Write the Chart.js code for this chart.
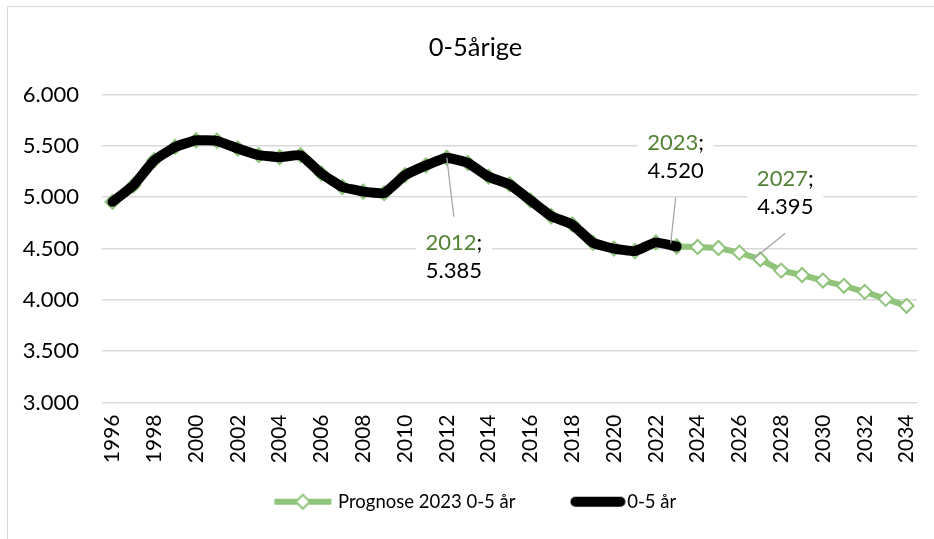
<!DOCTYPE html>
<html>
<head>
<meta charset="utf-8">
<script src="https://cdn.jsdelivr.net/npm/chart.js@4.4.1/dist/chart.umd.min.js"></script>
<style>
  html, body { margin: 0; padding: 0; background: #fff; overflow: hidden; }
  #frame { position: absolute; left: 7px; top: 6px; width: 1000px; height: 600px; border: 1px solid #d9d9d9; }
  #wrap { position: absolute; left: 0; top: 0; width: 951px; height: 539px; }
</style>
</head>
<body>
<div id="frame"></div>
<div id="wrap"><canvas id="chart"></canvas></div>
<script>
// years on the x axis
var years = [];
for (var y = 1996; y <= 2034; y++) years.push(String(y));

// registered 0-5 year olds, 1996-2023
var actual = [4955, 5115, 5360, 5490, 5555, 5550, 5475, 5410, 5390, 5410, 5230, 5100,
  5055, 5040, 5215, 5310, 5385, 5335, 5200, 5125, 4970, 4815, 4735, 4555, 4500, 4475, 4560, 4520];

// forecast 2023, 2024-2034
var forecastTail = [4515, 4505, 4460, 4395, 4285, 4242, 4188, 4137, 4078, 4010, 3942];

var prognoseData = actual.concat(forecastTail);
var actualData = actual.concat(forecastTail.map(function(){ return null; }));

var green = '#8fc47a';
var labelGreen = '#548235';
var font = 'Lato, "Liberation Sans", sans-serif';

function fmt(v) {
  return String(Math.round(v)).replace(/\B(?=(\d{3})+(?!\d))/g, '.');
}

// legend symbols (line + marker like Excel)
function legendGreen() {
  var c = document.createElement('canvas');
  c.width = 80; c.height = 18;
  var g = c.getContext('2d');
  g.strokeStyle = green; g.lineWidth = 6;
  g.beginPath(); g.moveTo(21.75, 9); g.lineTo(78.75, 9); g.stroke();
  g.fillStyle = '#fff'; g.lineWidth = 2;
  g.beginPath(); g.moveTo(50.25, 2); g.lineTo(57.25, 9); g.lineTo(50.25, 16); g.lineTo(43.25, 9); g.closePath();
  g.fill(); g.stroke();
  return c;
}
function legendBlack() {
  var c = document.createElement('canvas');
  c.width = 90; c.height = 14;
  var g = c.getContext('2d');
  g.strokeStyle = '#000'; g.lineWidth = 10; g.lineCap = 'round';
  g.beginPath(); g.moveTo(38.75, 7); g.lineTo(83.75, 7); g.stroke();
  return c;
}

// labels like "2012; 5.385" with leader lines
var callouts = [
  { ds: 1, idx: 16, dx: 7, dy: 85, lx: 7, ly: 59, ex: 0, ey: 0 },
  { ds: 1, idx: 27, dx: -1, dy: -104, lx: -1, ly: -49, ex: -6, ey: -3 },
  { ds: 0, idx: 31, dx: 25, dy: -80, lx: 25, ly: -26, ex: -7, ey: 0 }
];

var calloutPlugin = {
  id: 'callouts',
  afterDatasetsDraw: function(chart) {
    var ctx = chart.ctx;
    callouts.forEach(function(c) {
      var pt = chart.getDatasetMeta(c.ds).data[c.idx];
      if (!pt) return;
      var val = chart.data.datasets[c.ds].data[c.idx];
      var x = pt.x, y = pt.y;
      var cx = x + c.dx, cy = y + c.dy;
      ctx.save();
      ctx.fillStyle = '#fff';
      ctx.fillRect(cx - 38, cy - 15, 76, 46);
      ctx.strokeStyle = '#a6a6a6'; ctx.lineWidth = 1.3;
      ctx.beginPath(); ctx.moveTo(x + c.lx, y + c.ly); ctx.lineTo(x + c.ex, y + c.ey); ctx.stroke();
      ctx.font = '22px ' + font;
      ctx.textBaseline = 'middle';
      var yr = chart.data.labels[c.idx];
      var w1 = ctx.measureText(yr).width, w2 = ctx.measureText(';').width;
      var sx = cx - (w1 + w2) / 2;
      ctx.textAlign = 'left';
      ctx.fillStyle = labelGreen; ctx.fillText(yr, sx, cy);
      ctx.fillStyle = '#000'; ctx.fillText(';', sx + w1, cy);
      ctx.textAlign = 'center';
      ctx.fillText(fmt(val), cx, cy + 28);
      ctx.restore();
    });
  }
};

new Chart(document.getElementById('chart'), {
  type: 'line',
  data: {
    labels: years,
    datasets: [
      {
        label: 'Prognose 2023 0-5 år',
        data: prognoseData,
        borderColor: green,
        borderWidth: 6,
        pointStyle: 'rectRot',
        pointRadius: 7,
        pointBorderWidth: 2,
        pointBorderColor: green,
        pointBackgroundColor: '#fff',
        tension: 0,
        order: 1
      },
      {
        label: '0-5 år',
        data: actualData,
        borderColor: '#000',
        borderWidth: 10,
        borderJoinStyle: 'round',
        borderCapStyle: 'round',
        pointRadius: 0,
        tension: 0.1,
        order: 0
      }
    ]
  },
  options: {
    responsive: true,
    maintainAspectRatio: false,
    animation: false,
    layout: { padding: { left: 0, right: 0, top: 0, bottom: 18 } },
    plugins: {
      title: {
        display: true,
        text: '0-5årige',
        color: '#000',
        font: { family: font, size: 25.5, weight: 'normal' },
        padding: { top: 32, bottom: 32 }
      },
      legend: {
        position: 'bottom',
        labels: {
          usePointStyle: true,
          pointStyleWidth: 72.5,
          boxHeight: 16,
          padding: 30,
          color: '#000',
          font: { family: font, size: 18.5 },
          generateLabels: function(chart) {
            return [
              { text: 'Prognose 2023 0-5 år', pointStyle: legendGreen(), datasetIndex: 0, fontColor: '#000', lineWidth: 0, strokeStyle: 'transparent', fillStyle: 'transparent' },
              { text: '0-5 år\u2002\u2002', pointStyle: legendBlack(), datasetIndex: 1, fontColor: '#000', lineWidth: 0, strokeStyle: 'transparent', fillStyle: 'transparent' }
            ];
          }
        }
      },
      tooltip: { enabled: false }
    },
    scales: {
      x: {
        offset: true,
        grid: { display: false },
        border: { display: false },
        ticks: {
          autoSkip: false,
          minRotation: 90,
          maxRotation: 90,
          padding: 4,
          color: '#000',
          font: { family: font, size: 21 },
          callback: function(v, i) { return i % 2 === 0 ? this.getLabelForValue(v) : ''; }
        },
        afterFit: function(s) { s.height = 60; s.paddingLeft = 0; s.paddingRight = 0; }
      },
      y: {
        min: 3000,
        max: 6000,
        grid: { color: '#d9d9d9', lineWidth: 1.5, drawTicks: false },
        border: { display: false },
        ticks: {
          stepSize: 500,
          padding: 23,
          color: '#000',
          font: { family: font, size: 22 },
          callback: function(v) { return fmt(v); }
        },
        afterFit: function(s) { s.width = 102; }
      },
      // empty right-hand spacer so title and legend centre on the full frame
      yRight: {
        position: 'right',
        grid: { display: false },
        border: { display: false },
        ticks: { display: false },
        afterFit: function(s) { s.width = 34; }
      }
    }
  },
  plugins: [calloutPlugin]
});
</script>
</body>
</html>
